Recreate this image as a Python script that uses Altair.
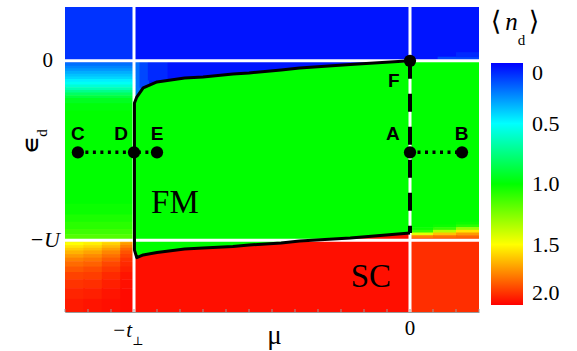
import altair as alt
import pandas as pd

# ---------------- data ----------------
# mu in units where t_perp = 0.6 ; eps_d in units of U
MU_DOMAIN = [-0.75, 0.15]
EPS_DOMAIN = [-1.4, 0.3]

x_tick_values = [-0.75, -0.7, -0.65, -0.6, -0.55, -0.5, -0.45, -0.4, -0.35, -0.3,
                 -0.25, -0.2, -0.15, -0.1, -0.05, 0.0, 0.05, 0.1, 0.15]
white_mu = [-0.6, 0.0]
white_eps = [0.0, -1.0]

# colour scale of <n_d>
nd_domain = [2.0, 1.5, 1.0, 0.5, 0.0]
nd_colors = ["#ff0000", "#ffff00", "#00ff00", "#00ffff", "#0000ff"]
legend_values = [0, 0.5, 1.0, 1.5, 2.0]

# uniform blocks: (mu_lo, mu_hi, eps_lo, eps_hi, n_d)
base_blocks = [
    (-0.75, -0.6, 0.0, 0.3, 0.10),
    (-0.6, 0.0, -0.3, 0.3, 0.04),
    (0.0, 0.15, 0.0, 0.3, 0.04),
    (-0.6, 0.0, -1.4, -0.9, 1.97),
    (0.0, 0.15, -0.9, 0.0, 1.0),
    (0.0, 0.15, -1.4, -1.0, 1.91),
]
fan_blocks = [
    (-0.6, -0.588, -0.24, 0.0, 0.22),
    (-0.588, -0.57, -0.15, 0.0, 0.14),
    (-0.57, -0.53, -0.11, 0.0, 0.08),
    (0.06, 0.15, 0.0, 0.02, 0.14),
    (0.1, 0.15, 0.02, 0.045, 0.08),
]
# left strip (mu < -t_perp), between eps=0 and eps=-U
left_mid_eps = [0.0, -0.015, -0.03, -0.045, -0.06, -0.075, -0.09, -0.105, -0.12, -0.135,
                -0.15, -0.165, -0.18, -0.195, -0.21, -0.24, -0.28, -0.8, -0.86, -0.9,
                -0.94, -0.97, -1.0]
left_mid_nd = [0.18, 0.22, 0.26, 0.30, 0.34, 0.38, 0.42, 0.47, 0.52, 0.58,
               0.65, 0.73, 0.81, 0.88, 0.94, 0.98, 1.0, 1.02, 1.05, 1.08,
               1.12, 1.16]
# left strip below eps=-U (four sub-columns)
left_low_mu = [-0.75, -0.71, -0.67, -0.63, -0.6]
left_low_eps = [-1.0, -1.015, -1.03, -1.045, -1.06, -1.08, -1.10, -1.12, -1.15, -1.18,
                -1.22, -1.27, -1.33, -1.4]
left_low_nd = [
    [1.46, 1.50, 1.55, 1.60, 1.65, 1.70, 1.75, 1.79, 1.83, 1.87, 1.90, 1.93, 1.95],
    [1.49, 1.53, 1.58, 1.63, 1.68, 1.73, 1.77, 1.81, 1.85, 1.88, 1.91, 1.94, 1.96],
    [1.54, 1.59, 1.64, 1.69, 1.74, 1.78, 1.82, 1.86, 1.89, 1.92, 1.94, 1.96, 1.97],
    [1.64, 1.70, 1.75, 1.80, 1.84, 1.87, 1.90, 1.92, 1.94, 1.96, 1.97, 1.98, 1.98],
]
# right strip (mu > 0) just above eps=-U
right_mu = [0.0, 0.05, 0.1, 0.15]
right_band_eps = [-0.90, -0.915, -0.93, -0.945, -0.96, -0.975, -0.99, -1.0]
right_band_nd = [
    [1.0, 1.0, 1.02, 1.1, 1.45, 1.75, 1.86],
    [1.0, 1.02, 1.1, 1.35, 1.62, 1.78, 1.86],
    [1.02, 1.08, 1.3, 1.55, 1.7, 1.8, 1.86],
]

# FM phase boundary
bnd_mu = [-0.599, -0.594, -0.58, -0.55, -0.49, -0.45, -0.385, -0.35, -0.28, -0.24, -0.13, 0.0]
bnd_upper = [-0.235, -0.202, -0.151, -0.118, -0.096, -0.090, -0.073, -0.068, -0.051, -0.040, -0.020, 0.0]
bnd_lower = [-1.055, -1.097, -1.082, -1.068, -1.049, -1.043, -1.035, -1.027, -1.015, -1.004, -0.988, -0.960]

# points
pt_name = ["A", "B", "C", "D", "E", "F"]
pt_mu = [0.0, 0.113, -0.722, -0.6, -0.55, 0.0]
pt_eps = [-0.51, -0.51, -0.51, -0.51, -0.51, 0.0]
lab_mu = [-0.037, 0.112, -0.722, -0.628, -0.55, -0.035]
lab_eps = [-0.41, -0.41, -0.41, -0.41, -0.41, -0.112]

dot_mu0 = [-0.722, 0.0]
dot_mu1 = [-0.55, 0.113]
dot_eps = [-0.51, -0.51]

dash_mu = [0.0]
dash_eps0 = [0.0]
dash_eps1 = [-0.96]

phase_text = ["FM", "SC"]
phase_mu = [-0.511, -0.085]
phase_eps = [-0.793, -1.205]

# ---------------- tables ----------------
SEAM = 0.003  # tiny overlap so neighbouring cells leave no hairline gaps
cells = []


def add_cell(m0, m1, e0, e1, v):
    cells.append(dict(mu0=m0, mu1=min(m1 + SEAM, MU_DOMAIN[1]), eps0=e0,
                      eps1=min(e1 + SEAM, EPS_DOMAIN[1]), nd=v))


for b in base_blocks + fan_blocks:
    add_cell(*b)
for i, v in enumerate(left_mid_nd):
    add_cell(-0.75, -0.6, left_mid_eps[i + 1], left_mid_eps[i], v)
for c in range(len(left_low_nd)):
    for i, v in enumerate(left_low_nd[c]):
        add_cell(left_low_mu[c], left_low_mu[c + 1], left_low_eps[i + 1], left_low_eps[i], v)
for c in range(len(right_band_nd)):
    for i, v in enumerate(right_band_nd[c]):
        add_cell(right_mu[c], right_mu[c + 1], right_band_eps[i + 1], right_band_eps[i], v)
cells_df = pd.DataFrame(cells)

area_df = pd.DataFrame({"mu": bnd_mu, "upper": bnd_upper, "lower": bnd_lower, "nd": [1.0] * len(bnd_mu)})
path_mu = list(reversed(bnd_mu)) + bnd_mu
path_eps = list(reversed(bnd_upper)) + bnd_lower
path_df = pd.DataFrame({"mu": path_mu, "eps": path_eps, "k": list(range(len(path_mu)))})

pts_df = pd.DataFrame({"name": pt_name, "mu": pt_mu, "eps": pt_eps, "lmu": lab_mu, "leps": lab_eps})
dots_df = pd.DataFrame({"mu0": dot_mu0, "mu1": dot_mu1, "eps": dot_eps})
dash_df = pd.DataFrame({"mu": dash_mu, "eps0": dash_eps0, "eps1": dash_eps1})
wx_df = pd.DataFrame({"mu": white_mu})
wy_df = pd.DataFrame({"eps": white_eps})
ticks_df = pd.DataFrame({"mu": x_tick_values})
phase_df = pd.DataFrame({"t": phase_text, "mu": phase_mu, "eps": phase_eps})

# ---------------- encodings ----------------
AXIS = alt.Axis(labels=False, ticks=False, grid=False, domainColor="#9a9a9a", domainWidth=1)
xs = alt.Scale(domain=MU_DOMAIN, nice=False, zero=False)
ys = alt.Scale(domain=EPS_DOMAIN, nice=False, zero=False)


def X(f):
    return alt.X(f + ":Q", scale=xs, axis=AXIS, title="")


def Y(f):
    return alt.Y(f + ":Q", scale=ys, axis=AXIS, title="")


cscale = alt.Scale(domain=nd_domain, range=nd_colors, interpolate="rgb")
legend = alt.Legend(type="gradient", orient="none", legendX=426, legendY=56, direction="vertical",
                    gradientLength=242, gradientThickness=32, values=legend_values,
                    labelExpr="datum.value == 0 ? '0' : format(datum.value, '.1f')",
                    labelFont="Liberation Serif", labelFontSize=22, labelColor="black",
                    labelOffset=9, gradientStrokeWidth=0, gradientOpacity=1)

rect = alt.Chart(cells_df).mark_rect(opacity=1).encode(
    x=X("mu0"), x2="mu1", y=Y("eps0"), y2="eps1",
    color=alt.Color("nd:Q", scale=cscale, legend=legend, title=None),
)
area = alt.Chart(area_df).mark_area(opacity=1).encode(
    x=X("mu"), y=Y("upper"), y2="lower",
    color=alt.Color("nd:Q", scale=cscale, legend=legend, title=None),
)
wx = alt.Chart(wx_df).mark_rule(color="white", strokeWidth=3).encode(x=X("mu"))
wy = alt.Chart(wy_df).mark_rule(color="white", strokeWidth=3).encode(y=Y("eps"))
bline = alt.Chart(path_df).mark_line(color="black", strokeWidth=3, strokeJoin="round").encode(
    x=X("mu"), y=Y("eps"), order="k:Q")
dash = alt.Chart(dash_df).mark_rule(color="black", strokeWidth=4, strokeDash=[18, 15]).encode(
    x=X("mu"), y=Y("eps0"), y2="eps1")
dots = alt.Chart(dots_df).mark_rule(color="black", strokeWidth=3.5, strokeDash=[3, 4.5]).encode(
    x=X("mu0"), x2="mu1", y=Y("eps"))
pts = alt.Chart(pts_df).mark_circle(size=150, color="black", opacity=1).encode(x=X("mu"), y=Y("eps"))
letters = alt.Chart(pts_df).mark_text(font="Liberation Sans", fontWeight="bold", fontSize=19,
                                      baseline="middle", align="center", color="black").encode(
    x=X("lmu"), y=Y("leps"), text="name:N")
phases = alt.Chart(phase_df).mark_text(font="Liberation Serif", fontSize=33, baseline="middle",
                                       align="center", color="black").encode(
    x=X("mu"), y=Y("eps"), text="t:N")
ticks = alt.Chart(ticks_df).mark_rule(color="#9a9a9a", strokeWidth=1).encode(
    x=X("mu"), y=alt.value(302), y2=alt.value(305))

# axis tick labels
ylab0 = alt.Chart(pd.DataFrame({"eps": [0.0], "t": ["0"]})).mark_text(
    font="Liberation Serif", fontSize=21, align="right", baseline="middle", color="black").encode(
    x=alt.value(-12), y=Y("eps"), text="t:N")
ylabU = alt.Chart(pd.DataFrame({"eps": [-1.0], "t": ["\u2212U"]})).mark_text(
    font="Liberation Serif", fontSize=22, fontStyle="italic", align="right", baseline="middle",
    color="black").encode(x=alt.value(-5), y=Y("eps"), text="t:N")
xlabt = alt.Chart(pd.DataFrame({"mu": [-0.6], "t": ["\u2212t"]})).mark_text(
    font="Liberation Serif", fontSize=21, fontStyle="italic", align="right", baseline="alphabetic",
    dx=-2, color="black").encode(x=X("mu"), y=alt.value(330), text="t:N")
xlabp = alt.Chart(pd.DataFrame({"mu": [-0.6], "t": ["\u22a5"]})).mark_text(
    font="DejaVu Serif", fontSize=12, align="center", baseline="alphabetic",
    dx=4, color="black").encode(x=X("mu"), y=alt.value(338), text="t:N")
xlab0 = alt.Chart(pd.DataFrame({"mu": [0.0], "t": ["0"]})).mark_text(
    font="Liberation Serif", fontSize=21, align="center", baseline="alphabetic",
    color="black").encode(x=X("mu"), y=alt.value(328), text="t:N")
xtitle = alt.Chart(pd.DataFrame({"t": ["\u03bc"]})).mark_text(
    font="Liberation Serif", fontSize=27, align="center", baseline="alphabetic",
    color="black").encode(x=alt.value(209.5), y=alt.value(337), text="t:N")
ytitle_e = alt.Chart(pd.DataFrame({"t": ["\u2208"]})).mark_text(
    font="DejaVu Sans", fontWeight="bold", fontSize=17, angle=270, align="center",
    baseline="middle", color="black").encode(x=alt.value(-32), y=alt.value(138), text="t:N")
ytitle_d = alt.Chart(pd.DataFrame({"t": ["d"]})).mark_text(
    font="Liberation Serif", fontSize=15, angle=270, align="center",
    baseline="middle", color="black").encode(x=alt.value(-23), y=alt.value(126), text="t:N")
# colour-bar title <n_d>
lt_open = alt.Chart(pd.DataFrame({"t": ["\u27e8"]})).mark_text(
    font="DejaVu Sans", fontSize=27, align="center", baseline="middle", color="black").encode(
    x=alt.value(431), y=alt.value(15), text="t:N")
lt_n = alt.Chart(pd.DataFrame({"t": ["n"]})).mark_text(
    font="Liberation Serif", fontSize=25, fontStyle="italic", align="center", baseline="alphabetic",
    color="black").encode(x=alt.value(446.5), y=alt.value(23), text="t:N")
lt_d = alt.Chart(pd.DataFrame({"t": ["d"]})).mark_text(
    font="Liberation Serif", fontSize=15, align="center", baseline="alphabetic",
    color="black").encode(x=alt.value(456.5), y=alt.value(38), text="t:N")
lt_close = alt.Chart(pd.DataFrame({"t": ["\u27e9"]})).mark_text(
    font="DejaVu Sans", fontSize=27, align="center", baseline="middle", color="black").encode(
    x=alt.value(469), y=alt.value(15), text="t:N")

chart = alt.layer(
    rect, area, wx, wy, bline, dash, dots, pts, letters, phases, ticks,
    ylab0, ylabU, xlabt, xlabp, xlab0, xtitle, ytitle_e, ytitle_d,
    lt_open, lt_n, lt_d, lt_close,
).properties(
    width=414, height=305,
    padding={"left": 65, "top": 7, "right": 98, "bottom": 39},
    autosize=alt.AutoSizeParams(type="none"),
).configure_view(stroke=None).resolve_scale(color="shared")

chart.save("out.html", embed_options={"renderer": "svg", "actions": False})
